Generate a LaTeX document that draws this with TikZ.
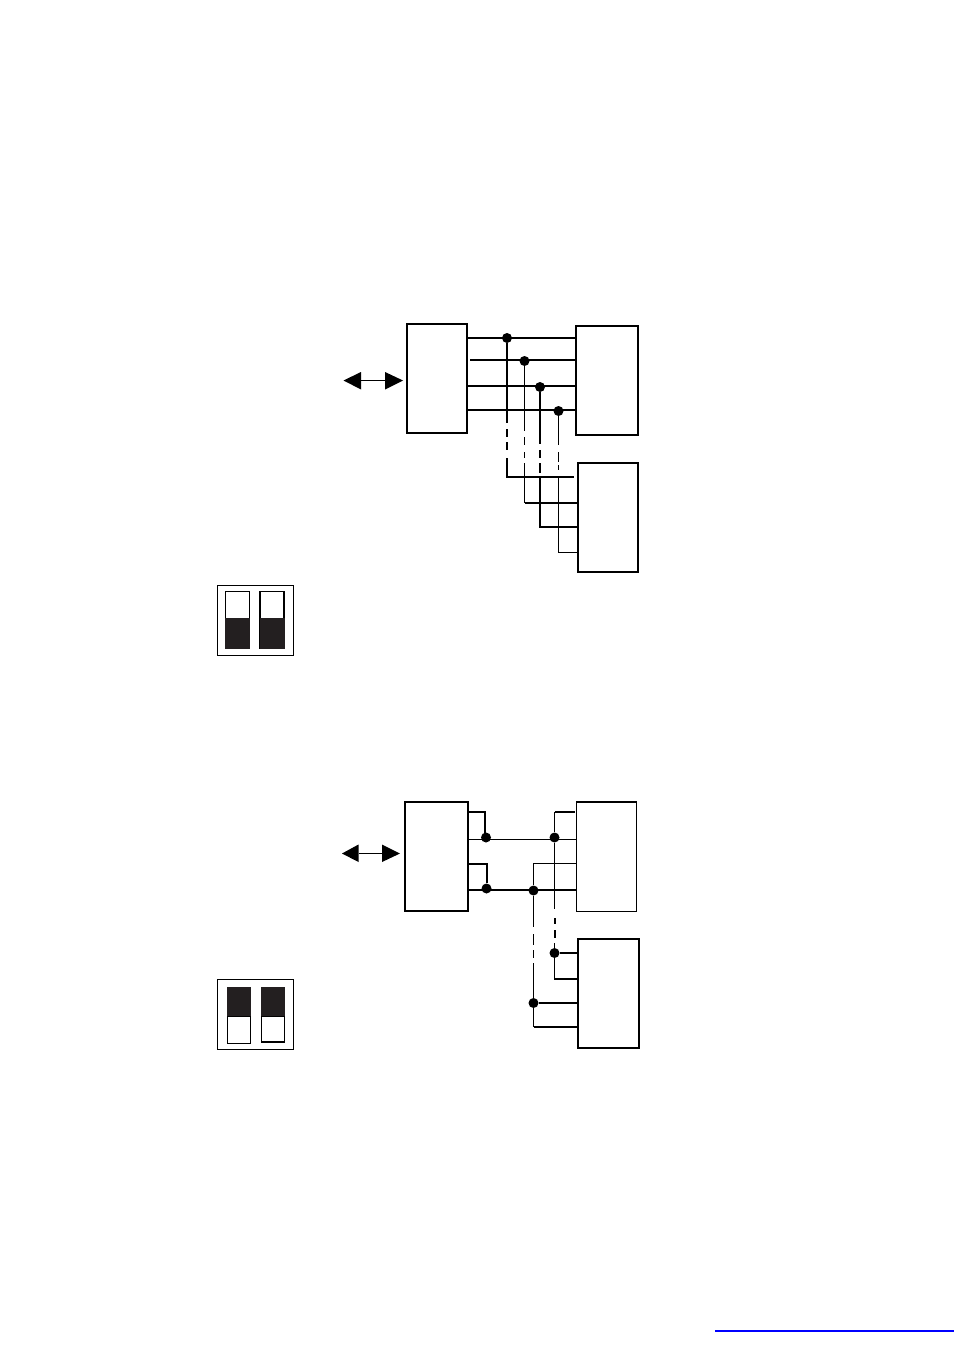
\documentclass[tikz,border=0pt]{standalone}
\definecolor{knobc}{HTML}{231F20}
\tikzset{
  thinw/.style={line width=0.8pt},
  thickw/.style={line width=1.5pt},
  boxthick/.style={draw=black,fill=white,line width=1.5pt,inner sep=0pt,outer sep=0pt,anchor=north west},
  boxthin/.style={draw=black,fill=white,line width=0.8pt,inner sep=0pt,outer sep=0pt,anchor=north west},
  junction/.style={circle,fill=black,inner sep=0pt,minimum size=7.5pt},
  tri/.style={fill=black,draw=none},
  frame/.style={draw=black,fill=white,line width=0.6pt,inner sep=0pt,outer sep=0pt,anchor=north west},
  slot/.style={draw=black,fill=white,line width=0.8pt},
  knob/.style={fill=knobc,draw=none}
}
\begin{document}
\begin{tikzpicture}[x=0.75pt,y=-0.75pt]
\useasboundingbox (0,0) rectangle (954,1355);
\fill[white] (0,0) rectangle (954,1355);
% --- top diagram
\coordinate (t1l) at (468,338); \coordinate (t1r) at (574.5,338);
\coordinate (t2l) at (470,360); \coordinate (t2r) at (576,360);
\coordinate (t3l) at (467,386); \coordinate (t3r) at (576,386);
\coordinate (t4l) at (467,410); \coordinate (t4r) at (576,410);
\node[junction] (j1) at (507,338) {};
\node[junction] (j2) at (524.5,361) {};
\node[junction] (j3) at (540,387) {};
\node[junction] (j4) at (558.5,411) {};
\draw[thickw] (t1l)--(t1r);
\draw[thickw] (t2l)--(t2r);
\draw[thickw] (t3l)--(t3r);
\draw[thickw] (t4l)--(t4r);
\coordinate (c1) at (574,477); \coordinate (c2) at (578,503);
\coordinate (c3) at (578,527); \coordinate (c4) at (578,552.5);
\coordinate (k1) at (507,477); \coordinate (k2) at (524.5,503);
\coordinate (k3) at (540,527); \coordinate (k4) at (558.5,552.5);
\draw[thickw] (j1) -- (507,423) (507,429) -- (507,437) (507,442) -- (507,450) (507,458) -- (k1) -- (c1);
\draw[thinw] (j2) -- (524.5,431) (524.5,437) -- (524.5,445) (524.5,452) -- (524.5,458) (524.5,463) -- (k2);
\draw[thickw] (k2) -- (c2);
\draw[thickw] (j3) -- (540,444) (540,450) -- (540,458) (540,463) -- (540,473) (540,478) -- (k3) -- (c3);
\draw[thinw] (j4) -- (558.5,445) (558.5,452) -- (558.5,462) (558.5,465) -- (558.5,470) (558.5,478) -- (k4) -- (c4);
\node[boxthick,minimum width=45pt,minimum height=81.75pt] (a1) at (407,324) {};
\node[boxthick,minimum width=46.9pt,minimum height=82.1pt] (b1) at (575.7,325.8) {};
\node[boxthick,minimum width=45.4pt,minimum height=81.75pt] (c1b) at (577.7,463) {};
% arrow
\coordinate (ar1) at (361,380.5); \coordinate (ar2) at (385,380.5);
\draw[thinw] (ar1)--(ar2);
\fill[tri] (343.5,380.5)--(361,372)--(361,389.5)--cycle;
\fill[tri] (403,380.5)--(385,372)--(385,389.5)--cycle;
% switch 1
\node[frame,minimum width=57pt,minimum height=52.5pt] (s1) at (217.5,585.5) {};
\draw[slot] (225.5,591.5) rectangle (249.5,648);
\fill[knob] (225,618) rectangle (250,648.5);
\draw[slot] (260,591.5) rectangle (284,648);
\fill[knob] (259.5,618) rectangle (284.5,648.5);
% --- bottom diagram
\coordinate (bt1) at (467,812); \coordinate (bt2) at (467,839.5);
\coordinate (bt3) at (467,864); \coordinate (bt4) at (467,890);
\node[junction] (m1) at (486,837.5) {};
\node[junction] (m2) at (486.5,888.5) {};
\node[junction] (m3) at (533.5,890.5) {};
\node[junction] (m4) at (554.5,837.5) {};
\node[junction] (m5) at (554.5,953) {};
\node[junction] (m6) at (533.5,1003) {};
\draw[thickw] (bt1) -- (485,812) -- (485,837);
\draw[thinw] (bt2) -- (577,839.5);
\draw[thickw] (bt3) -- (486.5,864) -- (m2);
\draw[thickw] (bt4) -- (577,890);
\draw[thinw] (577,863.5) -- (533.5,863.5) -- (m3);
\draw[thickw] (575,812) -- (555,812);
\draw[thinw] (554.5,811.5) -- (m4);
\draw[thinw] (m4) -- (554.5,909);
\draw[thickw] (554.5,918) -- (554.5,924) (554.5,930) -- (554.5,938);
\draw[thinw] (554.5,943) -- (m5);
\draw[thickw] (m5) -- (578,953);
\draw[thinw] (m5) -- (554.5,979);
\draw[thickw] (554,979) -- (578,979);
\draw[thinw] (m3) -- (533.5,927) (533.5,934) -- (533.5,945) (533.5,950) -- (533.5,958) (533.5,963) -- (m6);
\draw[thickw] (m6) -- (578,1003);
\draw[thinw] (m6) -- (533.5,1027);
\draw[thickw] (533.5,1027) -- (578,1027);
\node[boxthick,minimum width=47.25pt,minimum height=81.75pt] (a2) at (404.5,802) {};
\node[boxthin,minimum width=45pt,minimum height=82.1pt] (b2) at (576.5,802) {};
\draw[line width=1.5pt] (b2.north west) -- (b2.north east);
\node[boxthick,minimum width=45.4pt,minimum height=81.75pt] (c2b) at (578,939) {};
\coordinate (br1) at (358.5,853.5); \coordinate (br2) at (382,853.5);
\draw[thinw] (br1)--(br2);
\fill[tri] (342,853.5)--(358.5,844.5)--(358.5,862)--cycle;
\fill[tri] (400,853.5)--(382,844.5)--(382,862)--cycle;
% switch 2
\node[frame,minimum width=57pt,minimum height=52.1pt] (s2) at (217.5,979.5) {};
\draw[slot] (227.5,1016) rectangle (250.5,1043.5);
\fill[knob] (227,987) rectangle (251,1016);
\draw[slot] (261.5,1016) rectangle (284.5,1042);
\fill[knob] (261,987) rectangle (285,1016);
% link line
\draw[draw=blue,line width=1.5pt] (715,1331) -- (954,1331);
\end{tikzpicture}
\end{document}
